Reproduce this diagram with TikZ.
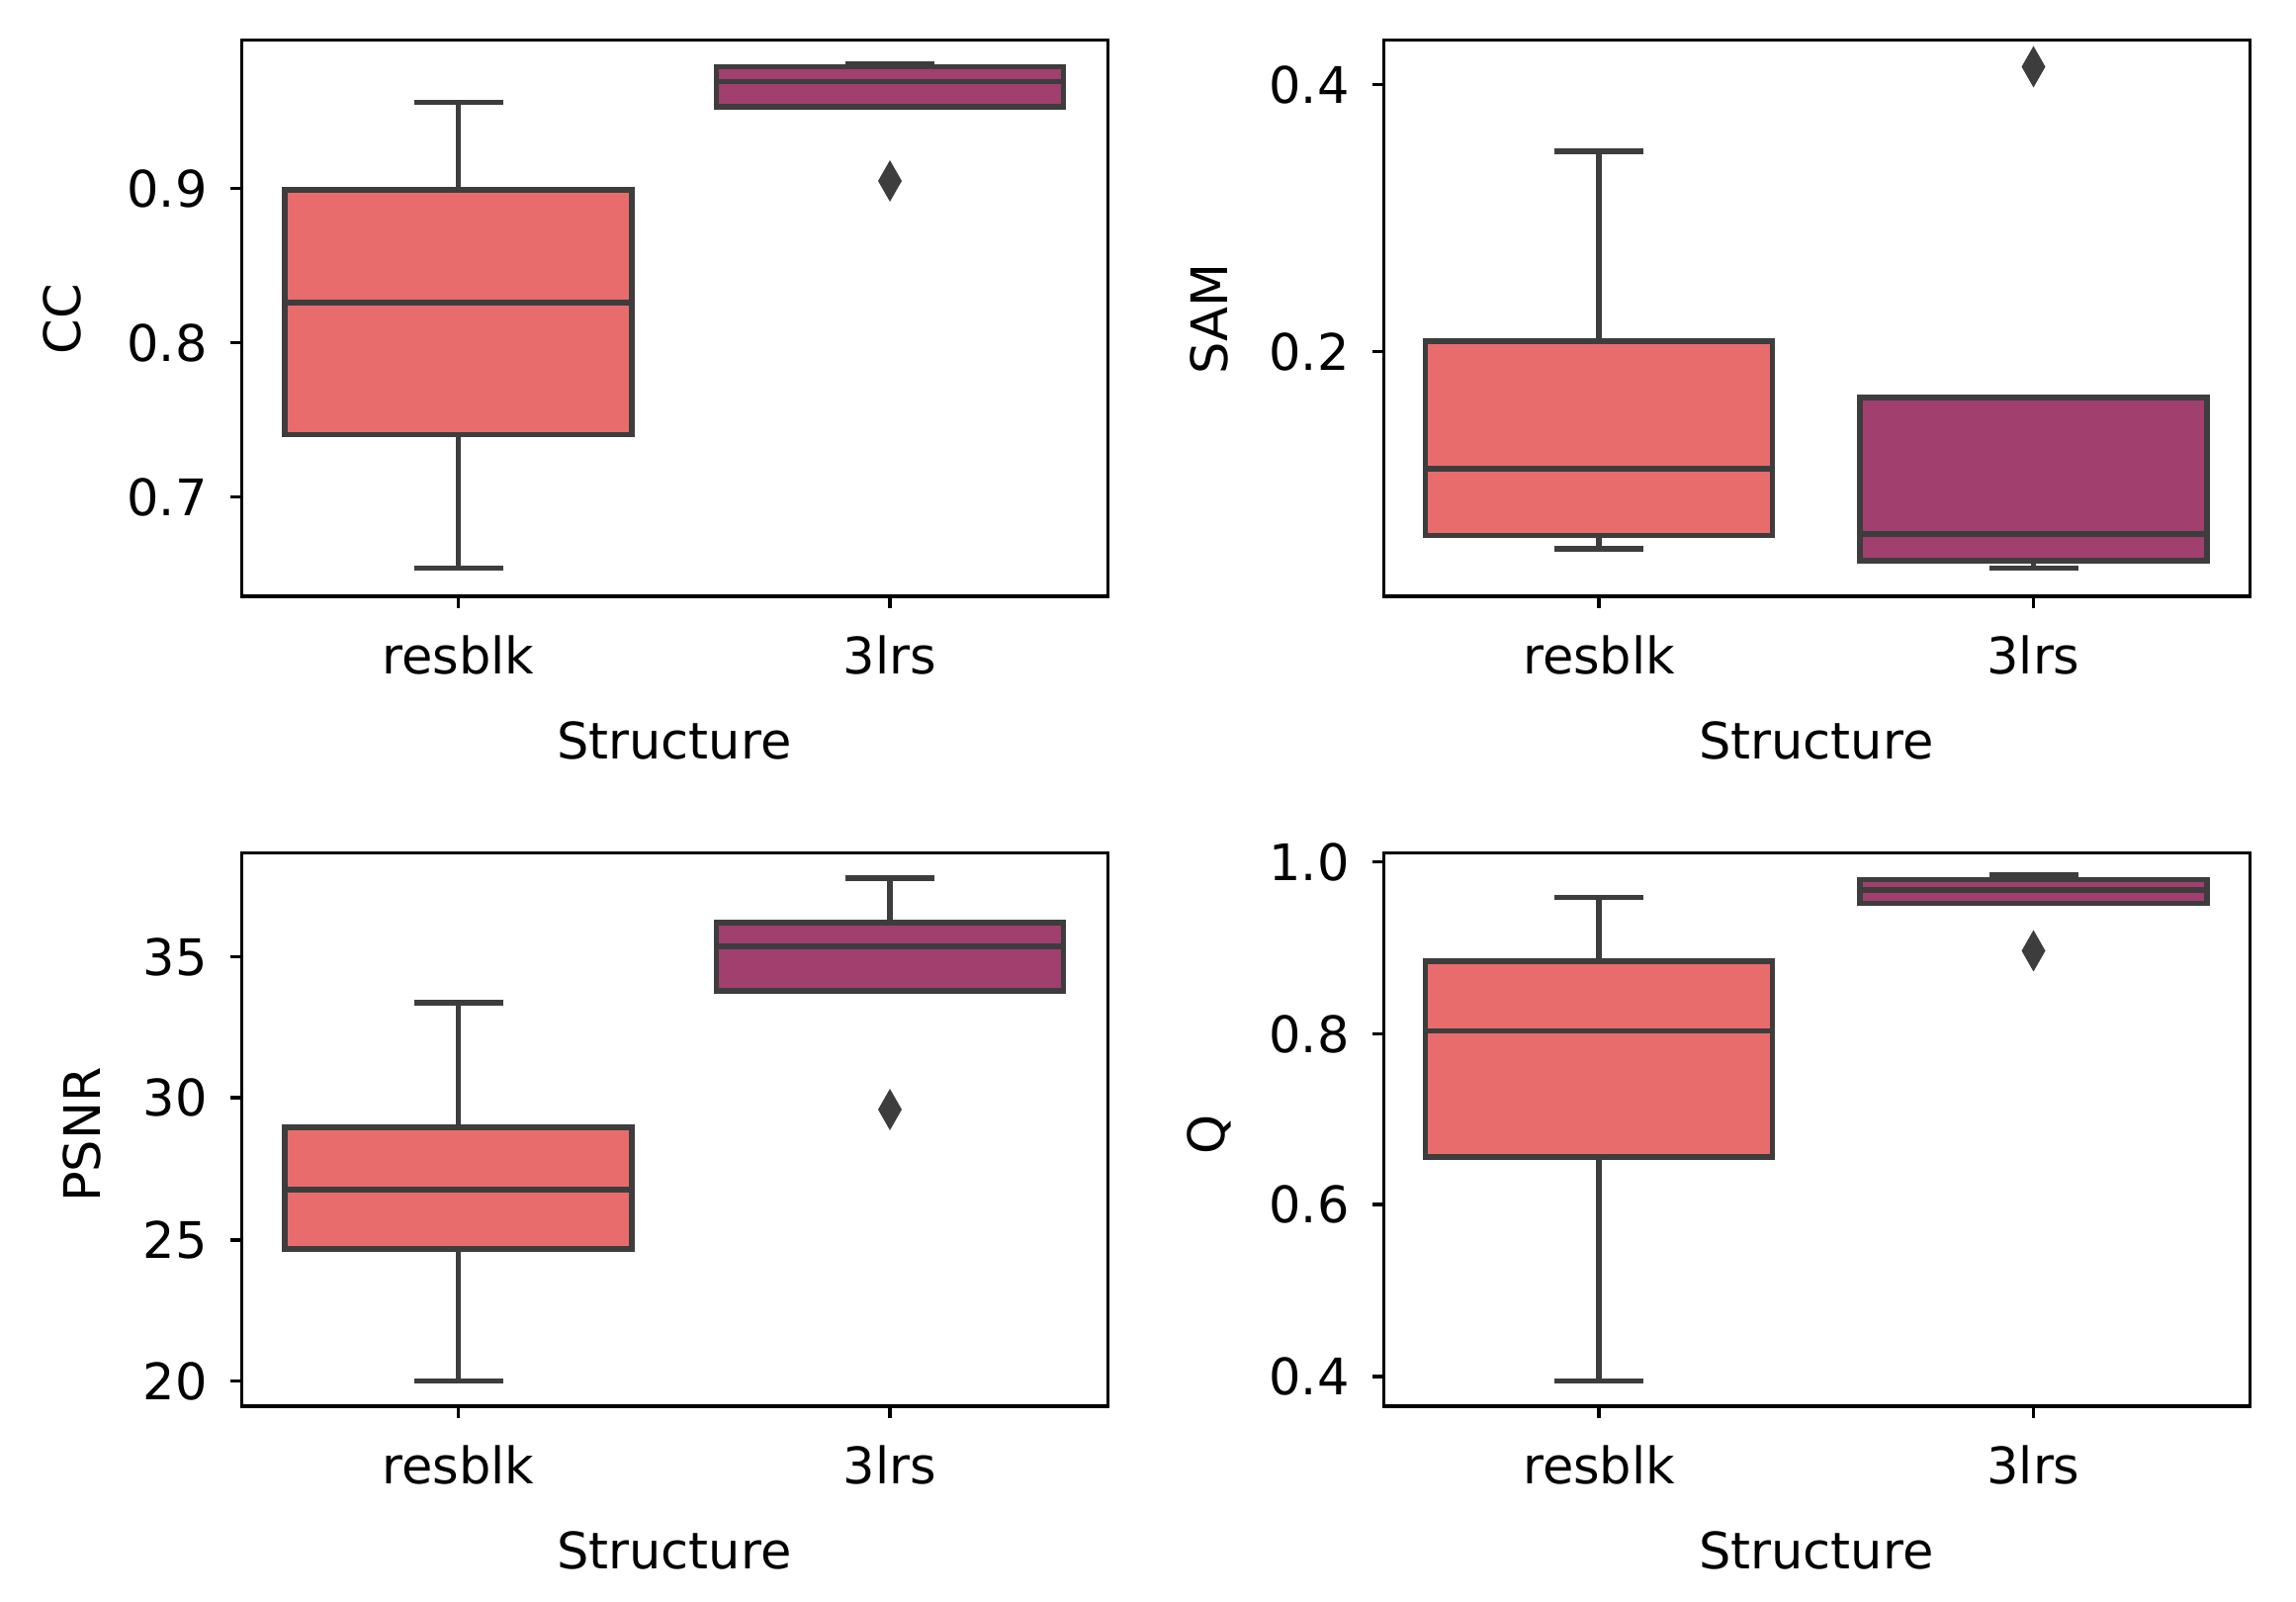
\documentclass[tikz,border=0pt]{standalone}
\usepackage{fontspec}
\setmainfont{DejaVu Sans}
\tikzset{
  axis/.style = {draw=black, line width=0.9pt},
  bx/.style = {draw=edge, line width=1.6pt},
  tick/.style = {font=\fontsize{14.5}{16}\selectfont},
}
\definecolor{salmon}{HTML}{E86C6B}
\definecolor{plum}{HTML}{A13F6E}
\definecolor{edge}{HTML}{3D3D3D}
% \bplot{x}{q3}{q1}{median}{upper whisker}{lower whisker}{fill}
\newcommand{\bplot}[7]{
  \draw [bx] (#1, #5) -- (#1, #3) (#1, #6) -- (#1, #4);
  \draw [bx] (#1-30, #5) -- (#1+30, #5) (#1-30, #6) -- (#1+30, #6);
  \filldraw [bx, fill=#7] (#1-117, #2) rectangle (#1+117, #4);
  \draw [bx] (#1-117, #3) -- (#1+117, #3);
}
\newcommand{\outl}[2]{\fill [edge] (#1, #2-14) -- (#1+8, #2) -- (#1, #2+14) -- (#1-8, #2) -- cycle;}
\begin{document}
\begin{tikzpicture}[x=0.015cm, y=-0.015cm]
  \useasboundingbox (0, 0) rectangle (1548, 1080);

  % top left
  \bplot{309}{128}{204}{293}{69}{383}{salmon}
  \bplot{600}{45}{55}{72}{43}{72}{plum}
  \outl{600}{122}
  \draw [axis] (163, 27) rectangle (747, 402);
  \foreach \v/\y in {0.9/127, 0.8/231, 0.7/335} {
    \draw [axis] (163, \y) -- (155, \y);
    \node [tick, anchor=east] at (148, \y) {\v};
  }
  \node [tick, rotate=90] at (42, 215) {CC};

  % top right
  \bplot{1078}{230}{316}{361}{102}{370}{salmon}
  \bplot{1371}{268}{360}{378}{268}{383}{plum}
  \outl{1371}{45}
  \draw [axis] (933, 27) rectangle (1517, 402);
  \foreach \v/\y in {0.4/57, 0.2/237} {
    \draw [axis] (933, \y) -- (925, \y);
    \node [tick, anchor=east] at (918, \y) {\v};
  }
  \node [tick, rotate=90] at (815, 215) {SAM};

  % bottom left
  \bplot{309}{760}{802}{842}{676}{931}{salmon}
  \bplot{600}{622}{638}{668}{592}{668}{plum}
  \outl{600}{748}
  \draw [axis] (163, 575) rectangle (747, 948);
  \foreach \v/\y in {35/645, 30/740, 25/836, 20/931} {
    \draw [axis] (163, \y) -- (155, \y);
    \node [tick, anchor=east] at (148, \y) {\v};
  }
  \node [tick, rotate=90] at (55, 765) {PSNR};

  % bottom right
  \bplot{1078}{648}{695}{780}{605}{931}{salmon}
  \bplot{1371}{593}{600}{609}{590}{609}{plum}
  \outl{1371}{641}
  \draw [axis] (933, 575) rectangle (1517, 948);
  \foreach \v/\y in {1.0/581, 0.8/697, 0.6/812, 0.4/928} {
    \draw [axis] (933, \y) -- (925, \y);
    \node [tick, anchor=east] at (918, \y) {\v};
  }
  \node [tick, rotate=90] at (815, 765) {Q};

  % x axes
  \foreach \xa/\xb/\yb in {309/600/402, 1078/1371/402, 309/600/948, 1078/1371/948} {
    \draw [axis] (\xa, \yb) -- (\xa, \yb+8) (\xb, \yb) -- (\xb, \yb+8);
    \node [tick] at (\xa, \yb+40) {resblk};
    \node [tick] at (\xb, \yb+40) {3lrs};
    \node [tick] at ({(\xa+\xb)/2}, \yb+97) {Structure};
  }
\end{tikzpicture}
\end{document}
